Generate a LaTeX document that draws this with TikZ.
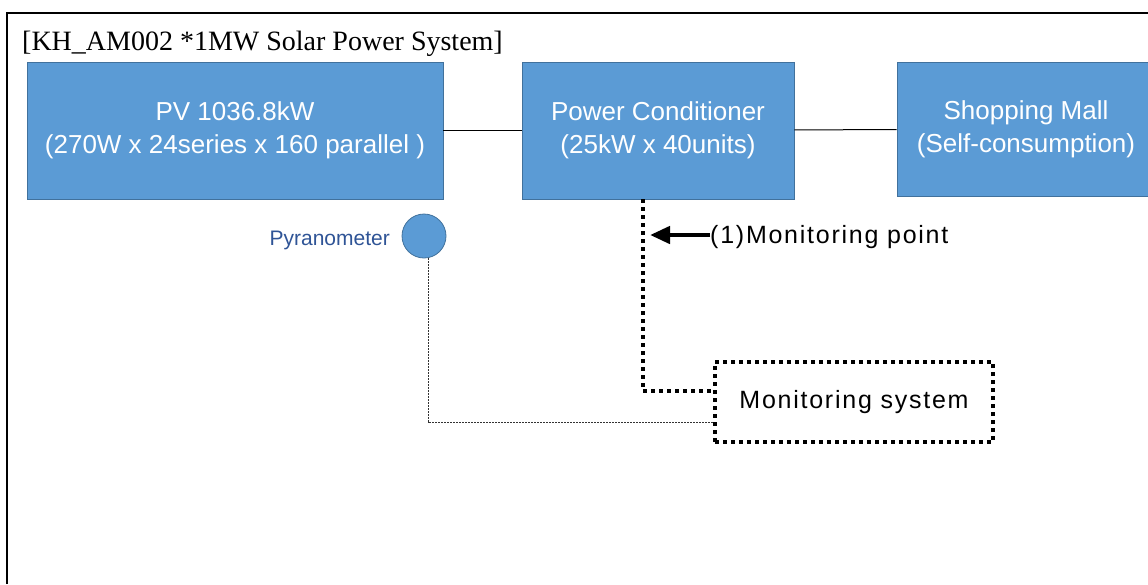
\documentclass[tikz,border=0pt]{standalone}
\usepackage{fontspec}
\setmainfont{Liberation Serif}
\setsansfont{Liberation Sans}
\newfontfamily\spacedsf[LetterSpace=7]{Liberation Sans}
\usetikzlibrary{arrows.meta,positioning}
\definecolor{boxblue}{HTML}{5B9BD5}
\definecolor{boxedge}{HTML}{41719C}
\definecolor{labelblue}{HTML}{2F5496}

\begin{document}
\begin{tikzpicture}[
    x=1pt, y=-1pt,
    unit/.style={rectangle, draw=boxedge, fill=boxblue, line width=0.8pt, inner sep=0pt, minimum height=137pt, align=center, text=white, font=\sffamily\fontsize{26}{33}\selectfont},
    sensor/.style={circle, draw=boxedge, fill=boxblue, line width=0.8pt, minimum size=44pt, inner sep=0pt},
    monbox/.style={rectangle, draw, line width=4pt, dash pattern=on 4pt off 4pt, minimum width=278pt, minimum height=80pt, inner sep=0pt, font=\spacedsf\fontsize{25}{28}\selectfont},
    link/.style={draw, line width=1pt},
    thickdot/.style={draw, line width=4pt, dash pattern=on 4pt off 4pt},
    thindot/.style={draw, line width=0.8pt, dash pattern=on 2pt off 1pt, black!80},
    pointer/.style={-{Triangle[length=20pt, width=17pt]}, line width=4.5pt}
]
\useasboundingbox (0,0) rectangle (1148,584);
\draw[line width=2pt] (7,584) -- (7,13) -- (1150,13);

\node[anchor=base west, inner sep=0pt, font=\fontsize{28}{32}\selectfont] (title) at (22,50) {[KH\_AM002 *1MW Solar Power System]};

\node[unit, minimum width=416pt] (pv) at (235,130.5) {PV 1036.8kW\\(270W x 24series x 160 parallel )};
\node[unit, minimum width=272pt] (pcs) at (658,130.5) {Power Conditioner\\(25kW x 40units)};
\node[unit, minimum width=258pt, minimum height=134pt] (mall) at (1026,129) {Shopping Mall\\(Self-consumption)};

\node[sensor] (pyr) at (424,236) {};
\node[anchor=east, inner sep=0pt, text=labelblue, font=\sffamily\fontsize{21}{24}\selectfont] (pyrlabel) at (390,240) {Pyranometer};

\node[monbox] (mon) at (854,402) {Monitoring system};

\node[anchor=west, inner sep=0pt, font=\spacedsf\fontsize{25}{28}\selectfont] (mpoint) at (710,237) {(1)Monitoring point};
\coordinate (tip) at (650,235);

\draw[link] (pv) -- (pcs);
\draw[link] (pcs) -- (mall);
\draw[thickdot] ([xshift=-15pt]pcs.south) |- ([yshift=11pt]mon.west);
\draw[thindot] ([xshift=4pt]pyr.south) |- ([yshift=-20pt]mon.west);
\draw[pointer] (mpoint.west |- tip) -- (tip);
\end{tikzpicture}
\end{document}
